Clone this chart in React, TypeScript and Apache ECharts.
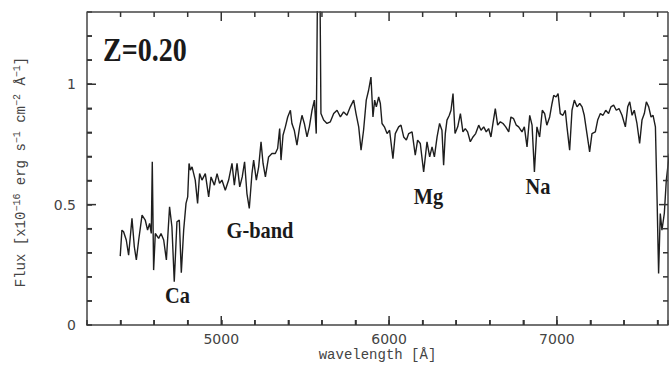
import React, { useEffect, useRef } from "react";
import * as echarts from "echarts";

const WAVELENGTH = [
  4398, 4408, 4418, 4434, 4448, 4468, 4482, 4494, 4508, 4528, 4547, 4561, 4573, 4583, 4589, 4597,
  4607, 4627, 4641, 4657, 4673, 4692, 4706, 4720, 4736, 4750, 4762, 4776, 4790, 4800, 4808, 4816,
  4826, 4845, 4859, 4871, 4885, 4905, 4925, 4939, 4959, 4975, 4990, 5004, 5024, 5044, 5064, 5078,
  5094, 5110, 5125, 5139, 5153, 5167, 5183, 5193, 5209, 5223, 5237, 5249, 5263, 5282, 5302, 5322,
  5336, 5348, 5356, 5368, 5382, 5396, 5412, 5421, 5435, 5451, 5467, 5481, 5495, 5511, 5525, 5541,
  5555, 5566, 5576, 5586, 5594, 5610, 5630, 5650, 5670, 5690, 5710, 5729, 5749, 5769, 5789, 5803,
  5819, 5833, 5848, 5864, 5878, 5892, 5904, 5914, 5924, 5938,
  5948, 5958, 5972, 5988, 6003, 6023, 6037, 6057, 6071, 6087, 6103, 6117, 6137, 6156, 6170, 6186,
  6206, 6226, 6242, 6256, 6270, 6286, 6301, 6315, 6325, 6335, 6345, 6359, 6369, 6381, 6393, 6409,
  6425, 6440, 6454, 6468, 6484, 6500, 6516, 6534, 6548, 6564, 6579, 6593, 6607, 6619, 6633, 6647,
  6663, 6679, 6695, 6713, 6726, 6742, 6758, 6772, 6792, 6806, 6822, 6838, 6852, 6866, 6881, 6897,
  6913, 6927, 6940, 6957, 6971, 6981, 6995, 7007, 7020, 7036, 7050, 7060, 7076, 7090, 7104, 7120,
  7136, 7150, 7163, 7179, 7195, 7209, 7229, 7243, 7259, 7275, 7291, 7308, 7322, 7338, 7354, 7370,
  7388, 7408, 7422, 7434, 7448, 7461, 7477, 7493, 7507, 7521, 7533, 7547, 7561, 7573, 7587, 7597,
  7606, 7616, 7626, 7640, 7652, 7670,
];

const FLUX = [
  0.286, 0.394, 0.387, 0.353, 0.29, 0.443, 0.325, 0.27, 0.353, 0.456, 0.436, 0.394, 0.422, 0.38, 0.678, 0.228,
  0.38, 0.36, 0.38, 0.353, 0.27, 0.491, 0.408, 0.18, 0.429, 0.436, 0.217, 0.394, 0.505, 0.532, 0.671, 0.643,
  0.657, 0.602, 0.505, 0.629, 0.602, 0.629, 0.532, 0.615, 0.581, 0.629, 0.588, 0.602, 0.56, 0.602, 0.671, 0.581,
  0.671, 0.574, 0.615, 0.678, 0.546, 0.484, 0.629, 0.685, 0.602, 0.657, 0.761, 0.671, 0.615, 0.698, 0.712, 0.712,
  0.733, 0.816, 0.685, 0.788, 0.823, 0.864, 0.892, 0.837, 0.809, 0.747, 0.823, 0.871, 0.837, 0.781, 0.823, 0.892,
  0.934, 0.795, 1.6, 1.6, 0.878, 0.851, 0.837, 0.844, 0.878, 0.892, 0.864, 0.885, 0.871, 0.906, 0.934, 0.878,
  0.823, 0.726, 0.809, 0.934, 0.975, 1.03, 0.864, 0.934, 0.906, 0.947,
  0.92, 0.837, 0.823, 0.795, 0.809, 0.691, 0.795, 0.823, 0.83, 0.781, 0.768, 0.795, 0.802, 0.705, 0.768, 0.754,
  0.636, 0.761, 0.698, 0.74, 0.698, 0.781, 0.837, 0.809, 0.664, 0.795, 0.851, 0.871, 0.892, 0.961, 0.795, 0.823,
  0.878, 0.802, 0.816, 0.802, 0.761, 0.781, 0.795, 0.83, 0.809, 0.823, 0.802, 0.816, 0.781, 0.837, 0.899, 0.83,
  0.844, 0.837, 0.823, 0.802, 0.864, 0.857, 0.83, 0.823, 0.802, 0.823, 0.74, 0.871, 0.83, 0.636, 0.823, 0.781,
  0.892, 0.878, 0.83, 0.864, 0.92, 0.954, 0.947, 0.961, 0.878, 0.871, 0.892, 0.823, 0.726, 0.892, 0.934, 0.906,
  0.92, 0.906, 0.871, 0.795, 0.719, 0.795, 0.802, 0.851, 0.878, 0.871, 0.892, 0.878, 0.906, 0.913, 0.892, 0.899,
  0.871, 0.823, 0.906, 0.927, 0.871, 0.892, 0.837, 0.754, 0.851, 0.878, 0.927, 0.906, 0.864, 0.871, 0.823, 0.519,
  0.214, 0.463, 0.394, 0.463, 0.602, 0.712,
];

const X_LABELS = [5000, 6000, 7000];
const X_MINOR = [4400, 4600, 4800, 5200, 5400, 5600, 5800, 6200, 6400, 6600, 6800, 7200, 7400, 7600];
const X_TICK_STEP = 200;
const Y_LABELS = [0, 0.5, 1];
const Y_MAJOR = [0.5, 1];
const Y_MINOR = [0.1, 0.2, 0.3, 0.4, 0.6, 0.7, 0.8, 0.9, 1.1, 1.2];
const Y_TICK_STEP = 0.1;

const X_MIN = 4200;
const X_MAX = 7662;
const Y_MIN = 0;
const Y_MAX = 1.3;

const AXIS_COLOR = "#444";
const TICK_COLOR = "#333";
const MAJOR_LEN = 9;
const MINOR_LEN = 5;

function annotation(text: string, x: number, y: number, size: number, align: string) {
  return {
    type: "text",
    x,
    y,
    scaleX: 0.85,
    silent: true,
    style: {
      text,
      font: `bold ${size}px "Liberation Serif"`,
      fill: "#1a1a1a",
      align,
      textAlign: align,
      verticalAlign: "middle",
      textVerticalAlign: "middle",
    },
  };
}

// Frame (top and right sides) and inward tick marks, all placed through the axes' scales.
// item: [xValue, yValue, kind (0 = x tick, 1 = y tick, 2 = frame), major (1) / minor (0)]
function frameRender(params: any, api: any) {
  const kind = api.value(2);
  const len = api.value(3) === 1 ? MAJOR_LEN : MINOR_LEN;
  const style = { stroke: TICK_COLOR, lineWidth: 1.5 };
  if (kind === 2) {
    const tl = api.coord([X_MIN, Y_MAX]);
    const tr = api.coord([X_MAX, Y_MAX]);
    const br = api.coord([X_MAX, Y_MIN]);
    const fs = { stroke: AXIS_COLOR, lineWidth: 1.5 };
    return {
      type: "group",
      children: [
        { type: "line", shape: { x1: tl[0], y1: tl[1], x2: tr[0], y2: tr[1] }, style: fs },
        { type: "line", shape: { x1: tr[0], y1: tr[1], x2: br[0], y2: br[1] }, style: fs },
      ],
    };
  }
  if (kind === 0) {
    const v = api.value(0);
    const b = api.coord([v, Y_MIN]);
    const t = api.coord([v, Y_MAX]);
    return {
      type: "group",
      children: [
        { type: "line", shape: { x1: b[0], y1: b[1], x2: b[0], y2: b[1] - len }, style },
        { type: "line", shape: { x1: t[0], y1: t[1], x2: t[0], y2: t[1] + len }, style },
      ],
    };
  }
  const v = api.value(1);
  const l = api.coord([X_MIN, v]);
  const r = api.coord([X_MAX, v]);
  return {
    type: "group",
    children: [
      { type: "line", shape: { x1: l[0], y1: l[1], x2: l[0] + len, y2: l[1] }, style },
      { type: "line", shape: { x1: r[0], y1: r[1], x2: r[0] - len, y2: r[1] }, style },
    ],
  };
}

export default function App() {
  const ref = useRef<HTMLDivElement>(null);

  useEffect(() => {
    if (!ref.current) return;
    const chart = echarts.init(ref.current, null, { renderer: "svg" });
    const data = WAVELENGTH.map((w, i) => [w, FLUX[i]]);
    const marks = [
      [X_MIN, Y_MIN, 2, 0],
      ...X_LABELS.map((v) => [v, Y_MIN, 0, 1]),
      ...X_MINOR.map((v) => [v, Y_MIN, 0, 0]),
      ...Y_MAJOR.map((v) => [X_MIN, v, 1, 1]),
      ...Y_MINOR.map((v) => [X_MIN, v, 1, 0]),
    ];
    chart.setOption({
      animation: false,
      grid: { left: 87, right: 1, top: 12, bottom: 40, outerBoundsMode: "none" },
      xAxis: {
        type: "value",
        min: X_MIN,
        max: X_MAX,
        interval: X_TICK_STEP,
        axisLine: { show: true, lineStyle: { color: AXIS_COLOR, width: 1.5 } },
        axisTick: { show: true, inside: true, length: MINOR_LEN, lineStyle: { color: TICK_COLOR, width: 1.5 } },
        axisLabel: {
          customValues: X_LABELS,
          formatter: (v: number) => String(v),
          margin: 7,
          color: "#444",
          fontFamily: "DejaVu Sans",
          fontSize: 14,
        },
        splitLine: { show: false },
        name: "wavelength [Å]",
        nameLocation: "middle",
        nameGap: 23,
        nameMoveOverlap: false,
        nameTextStyle: { fontFamily: "Liberation Mono", fontSize: 14, color: "#444" },
      },
      yAxis: {
        type: "value",
        min: Y_MIN,
        max: Y_MAX,
        interval: Y_TICK_STEP,
        axisLine: { show: true, lineStyle: { color: AXIS_COLOR, width: 1.5 } },
        axisTick: { show: true, inside: true, length: MINOR_LEN, lineStyle: { color: TICK_COLOR, width: 1.5 } },
        axisLabel: {
          customValues: Y_LABELS,
          formatter: (v: number) => String(v),
          margin: 11,
          color: "#444",
          fontFamily: "DejaVu Sans",
          fontSize: 14,
        },
        splitLine: { show: false },
      },
      series: [
        {
          type: "custom",
          data: marks,
          encode: { x: 0, y: 1 },
          renderItem: frameRender,
          silent: true,
          z: 5,
        },
        {
          type: "line",
          data,
          showSymbol: false,
          clip: true,
          lineStyle: { color: "#1e1e1e", width: 1.4 },
          itemStyle: { color: "#1e1e1e" },
          z: 3,
        },
      ],
      graphic: [
        {
          type: "text",
          x: 21,
          y: 172,
          rotation: Math.PI / 2,
          silent: true,
          style: {
            text: "Flux [x10{s|−16} erg s{s|−1} cm{s|−2} Å{s|−1}]",
            font: '14px "Liberation Mono"',
            fill: "#444",
            align: "center",
            verticalAlign: "middle",
            textAlign: "center",
            textVerticalAlign: "middle",
            rich: {
              s: {
                font: '10px "Liberation Mono"',
                fill: "#444",
                verticalAlign: "top",
                lineHeight: 18,
              },
            },
          },
        },
        annotation("Z=0.20", 103, 50, 33, "left"),
        annotation("Ca", 177.5, 295, 24, "center"),
        annotation("G-band", 260, 230, 24, "center"),
        annotation("Mg", 428.5, 196, 24, "center"),
        annotation("Na", 538, 186, 24, "center"),
      ],
    });
    return () => {
      chart.dispose();
    };
  }, []);

  return (
    <div
      ref={ref}
      style={{ position: "absolute", left: 0, top: 0, width: 669, height: 365 }}
    />
  );
}
